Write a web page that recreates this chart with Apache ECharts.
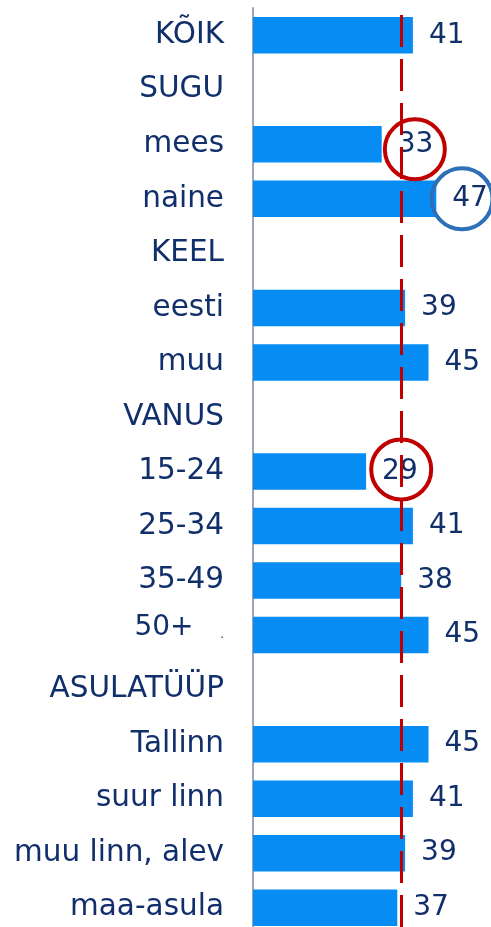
<!DOCTYPE html>
<html>
<head>
    <meta charset="utf-8">
    <title>Tulemused rühmade kaupa</title>
    <script src="https://cdn.jsdelivr.net/npm/echarts@6/dist/echarts.min.js"></script>
    <style>
        html, body { margin: 0; padding: 0; background: #fff; overflow: hidden; }
    </style>
</head>
<body>
<!-- konteiner on aknast veidi kõrgem, et viimane rida jääks õigele kohale -->
<div id="chart" style="width: 491px; height: 945px;"></div>
<script>
    // kategooriad ülalt alla
    var categories = ['KÕIK', 'SUGU', 'mees', 'naine', 'KEEL', 'eesti', 'muu', 'VANUS',
        '15-24', '25-34', '35-49', '50+', 'ASULATÜÜP', 'Tallinn', 'suur linn',
        'muu linn, alev', 'maa-asula'];
    // väärtused (pealkirjaridadel tühi)
    var values = [41, null, 33, 47, null, 39, 45, null, 29, 41, 38, 45, null, 45, 41, 39, 37];
    // punane katkendjoon (keskmine)
    var averageLine = 38.1;
    // ringid: [x-väärtus ringi keskel, kategooria]
    var redCircles = [[41.5, 'mees'], [38, '15-24']];
    var redOffsets = [[0, 5], [0, -2]];
    var blueCircles = [[53.6, 'naine']];

    var textColor = '#112f6b';
    var chart = echarts.init(document.getElementById('chart'));

    var option = {
        animation: false,
        grid: {
            left: 253,
            right: 4,
            top: 8,
            height: 927
        },
        xAxis: {
            type: 'value',
            min: 0,
            max: 60,
            show: false
        },
        yAxis: {
            type: 'category',
            inverse: true,
            data: categories,
            axisLine: {
                show: true,
                lineStyle: { color: '#a0a3b1', width: 2 }
            },
            axisTick: { show: false },
            axisLabel: {
                color: textColor,
                fontFamily: 'DejaVu Sans',
                fontSize: 29.5,
                margin: 29,
                formatter: function (v) {
                    if (v === '50+') return '{up|50+}{dot|       .}';
                    return v;
                },
                rich: {
                    up: {
                        color: textColor,
                        fontFamily: 'DejaVu Sans',
                        fontSize: 28,
                        padding: [0, 0, 14, 0]
                    },
                    dot: {
                        color: textColor,
                        fontFamily: 'DejaVu Sans',
                        fontSize: 12
                    }
                }
            }
        },
        series: [{
            type: 'bar',
            data: values,
            barCategoryGap: '33%',
            itemStyle: { color: '#068cf2' },
            label: {
                show: true,
                position: 'right',
                distance: 16,
                color: textColor,
                fontFamily: 'DejaVu Sans',
                fontSize: 28
            },
            markLine: {
                silent: true,
                symbol: 'none',
                label: { show: false },
                lineStyle: {
                    color: '#c00000',
                    width: 3,
                    type: [32, 12],
                    dashOffset: 37
                },
                data: [{ xAxis: averageLine }]
            },
            markPoint: {
                silent: true,
                symbol: 'circle',
                symbolSize: 60,
                label: { show: false },
                itemStyle: {
                    color: 'rgba(0,0,0,0)',
                    borderColor: '#c00000',
                    borderWidth: 4
                },
                data: redCircles.map(function (c, i) {
                    return { coord: c, symbolOffset: redOffsets[i] };
                })
            }
        }, {
            type: 'scatter',
            data: [],
            markPoint: {
                silent: true,
                symbol: 'circle',
                symbolSize: 61,
                label: { show: false },
                itemStyle: {
                    color: 'rgba(255,255,255,0)',
                    borderColor: '#2e70b8',
                    borderWidth: 4
                },
                data: blueCircles.map(function (c) {
                    return { coord: c };
                })
            }
        }]
    };

    chart.setOption(option);
</script>
</body>
</html>
